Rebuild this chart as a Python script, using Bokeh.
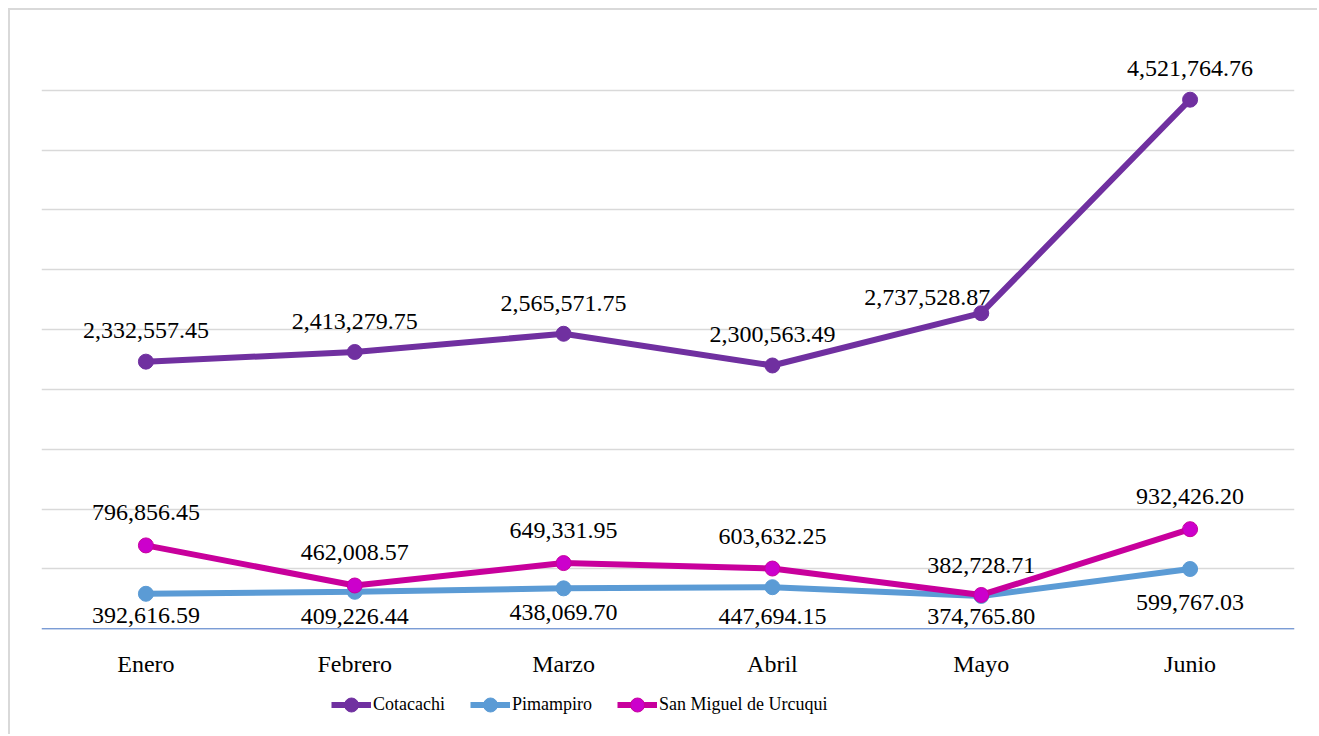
from bokeh.plotting import figure
from bokeh.models import ColumnDataSource, FixedTicker, Legend, LegendItem, Range1d, Span
from bokeh.core.properties import value
from bokeh.embed import file_html
from bokeh.resources import INLINE

# ---- data ----
months = ["Enero", "Febrero", "Marzo", "Abril", "Mayo", "Junio"]
cotacachi = [2332557.45, 2413279.75, 2565571.75, 2300563.49, 2737528.87, 4521764.76]
pimampiro = [392616.59, 409226.44, 438069.70, 447694.15, 374765.80, 599767.03]
san_miguel = [796856.45, 462008.57, 649331.95, 603632.25, 382728.71, 932426.20]
series_names = ["Cotacachi", "Pimampiro", "San Miguel de Urcuqui"]
y_axis_min = 100000
y_axis_max = 4600000
y_step = 500000

# ---- styles ----
FONT = "Liberation Serif"
C_COT = "#7030A0"
C_PIM = "#5B9BD5"
C_SM = "#C8009C"
C_SM_FILL = "#CC00CC"

# label offsets (screen px)
cot_dx = [0, 0, 0, 0, -54, 0]
cot_dy = [-31, -30, -30, -30, -15, -31]
pim_dy = [22, 25, 25, 30, 21, 34]
sm_dy = [-32, -32, -32, -32, -29, -32]
BASE = -0.5

def fmt(v):
    return f"{v:,.2f}"

p = figure(x_range=months, y_range=Range1d(-800000, 5100000),
           width=1309, height=726, output_backend="svg", toolbar_location=None,
           min_border_left=31, min_border_right=25, min_border_top=20, min_border_bottom=0,
           styles={"margin-top": "8px", "margin-left": "8px",
                   "border-top": "2px solid #d9d9d9", "border-left": "2px solid #d9d9d9"})
p.outline_line_color = None
p.background_fill_color = "white"
p.border_fill_color = "white"

p.yaxis.visible = False
p.xaxis.visible = False
p.ygrid.ticker = FixedTicker(ticks=list(range(y_axis_min + y_step, y_axis_max + 1, y_step)))
p.ygrid.grid_line_color = "#d9d9d9"
p.ygrid.grid_line_width = 1.5
p.xgrid.grid_line_color = None

p.add_layout(Span(location=y_axis_min, dimension="width", line_color="#4472C4", line_width=1))

# category labels under the baseline
cat_src = ColumnDataSource(dict(x=months, y=[y_axis_min] * len(months), t=months))
p.text("x", "y", text="t", source=cat_src, y_offset=35,
       text_font=value(FONT), text_font_size="24px", text_color="#000000",
       text_align="center", text_baseline="alphabetic")

renderers = []
for vals, col, fill in [(cotacachi, C_COT, C_COT), (pimampiro, C_PIM, C_PIM), (san_miguel, C_SM, C_SM_FILL)]:
    src = ColumnDataSource(dict(x=months, y=vals))
    ln = p.line("x", "y", source=src, line_color=col, line_width=6)
    sc = p.scatter("x", "y", source=src, size=15, fill_color=fill, line_color=col, line_width=1)
    renderers.append((ln, sc))

def add_labels(vals, dx, dy):
    src = ColumnDataSource(dict(x=months, y=vals, t=[fmt(v) for v in vals],
                                dx=dx, dy=[d + BASE for d in dy]))
    p.text("x", "y", text="t", source=src, x_offset="dx", y_offset="dy",
           text_font=value(FONT), text_font_size="24px", text_color="#000000",
           text_align="center", text_baseline="alphabetic")

add_labels(cotacachi, cot_dx, cot_dy)
add_labels(pimampiro, [0] * 6, pim_dy)
add_labels(san_miguel, [0] * 6, sm_dy)

items = [LegendItem(label=n, renderers=list(r)) for n, r in zip(series_names, renderers)]
legend = Legend(items=items, orientation="horizontal", location=(290, 14),
                glyph_width=40, glyph_height=35, label_standoff=2, spacing=25,
                padding=0, margin=0, border_line_color=None, background_fill_alpha=0,
                label_text_font=FONT, label_text_font_size="18px", label_text_color="#000000")
p.add_layout(legend, "center")

open("out.html", "w").write(file_html(p, INLINE))
